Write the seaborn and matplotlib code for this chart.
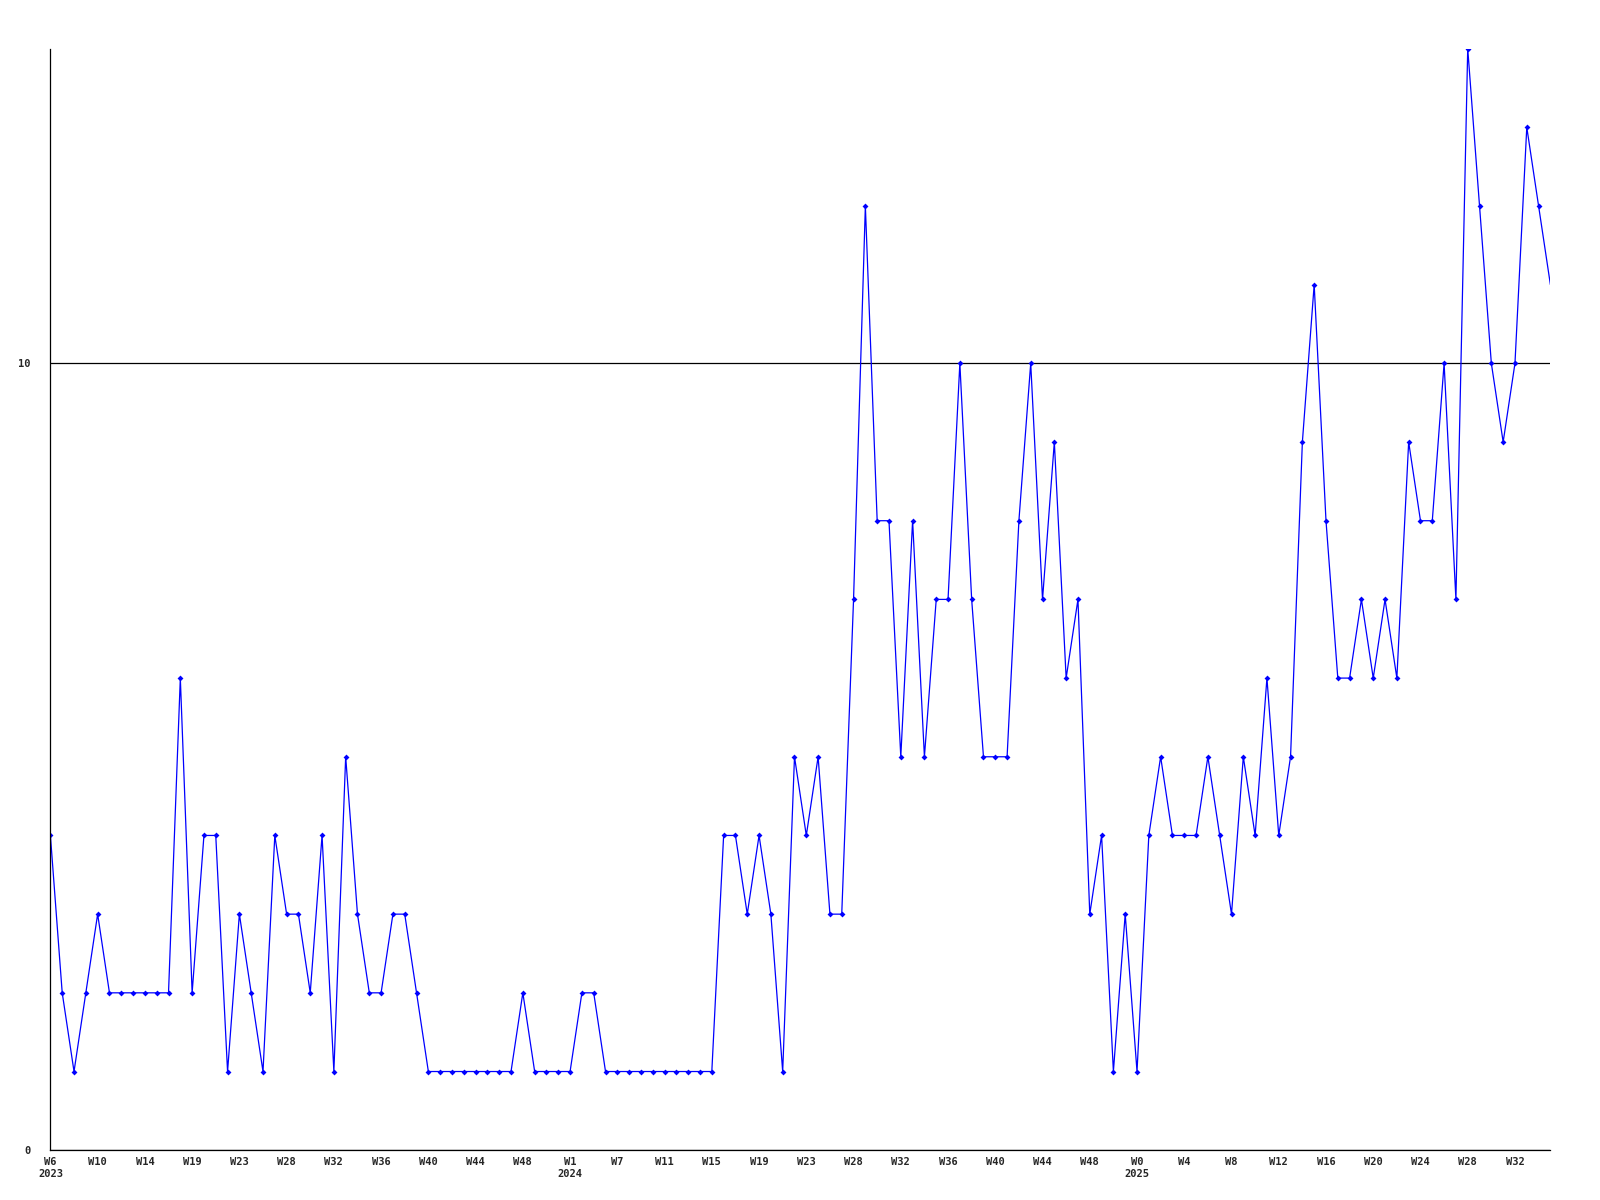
import matplotlib
matplotlib.use('Agg')
import matplotlib.pyplot as plt
import pandas as pd
import numpy as np
import seaborn as sns

sns.set_style('white')
plt.rcParams['font.family'] = ['DejaVu Sans Mono', 'DejaVu Sans']

# weekly values
values = [4, 2, 1, 2, 3, 2, 2, 2, 2, 2, 2, 6, 2, 4, 4, 1, 3, 2, 1, 4,
          3, 3, 2, 4, 1, 5, 3, 2, 2, 3, 3, 2, 1, 1, 1, 1, 1, 1, 1, 1,
          2, 1, 1, 1, 1, 2, 2, 1, 1, 1, 1, 1, 1, 1, 1, 1, 1, 4, 4, 3,
          4, 3, 1, 5, 4, 5, 3, 3, 7, 12, 8, 8, 5, 8, 5, 7, 7, 10, 7, 5,
          5, 5, 8, 10, 7, 9, 6, 7, 3, 4, 1, 3, 1, 4, 5, 4, 4, 4, 5, 4,
          3, 5, 4, 6, 4, 5, 9, 11, 8, 6, 6, 7, 6, 7, 6, 9, 8, 8, 10, 7,
          14, 12, 10, 9, 10, 13, 12, 11]

tick_labels = ['W6\n2023', 'W10', 'W14', 'W19', 'W23', 'W28', 'W32', 'W36',
               'W40', 'W44', 'W48', 'W1\n2024', 'W7', 'W11', 'W15', 'W19',
               'W23', 'W28', 'W32', 'W36', 'W40', 'W44', 'W48', 'W0\n2025',
               'W4', 'W8', 'W12', 'W16', 'W20', 'W24', 'W28', 'W32']
tick_step = 4

df = pd.DataFrame({'week': np.arange(len(values)), 'count': values})

fig = plt.figure(figsize=(16, 12), dpi=100)
ax = fig.add_axes([0.0315, 0.0415, 0.9375, 0.918])

# last point sits on the right edge without a marker in the original
sns.lineplot(data=df, x='week', y='count', ax=ax, color='#0000ff',
             linewidth=0.9, marker='D', markersize=3, markeredgewidth=0,
             markerfacecolor='#0000ff', markevery=list(range(len(values) - 1)))

ax.set_xlim(0, len(values) - 1)
ax.set_ylim(0, 14)
ax.set_yticks([0, 10])
ax.set_yticklabels(['0', '10'], fontsize=7.5, fontweight='bold')
ax.set_xticks(np.arange(len(tick_labels)) * tick_step)
ax.set_xticklabels(tick_labels, fontsize=7.5, fontweight='bold')
ax.tick_params(length=0, pad=5)
ax.tick_params(axis='y', pad=14)
ax.yaxis.grid(True, color='black', linewidth=0.9)
ax.xaxis.grid(False)
ax.set_xlabel('')
ax.set_ylabel('')
sns.despine(ax=ax, top=True, right=True)
for side in ['left', 'bottom']:
    ax.spines[side].set_color('black')
    ax.spines[side].set_linewidth(0.9)

plt.savefig('out.png', dpi=100)
